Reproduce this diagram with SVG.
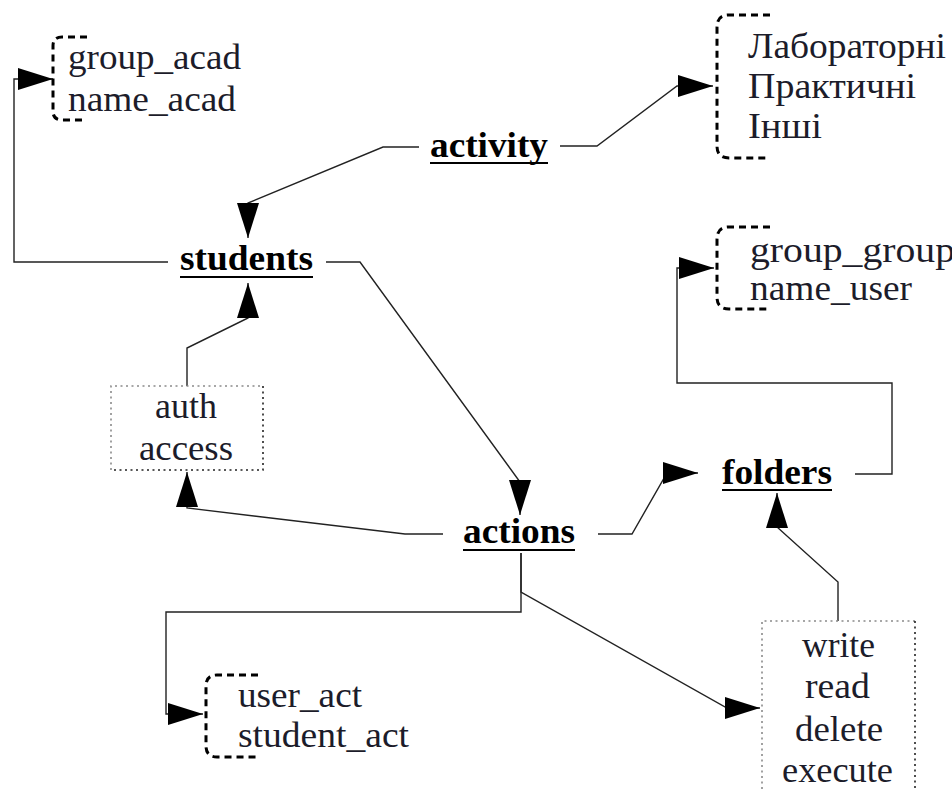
<svg xmlns="http://www.w3.org/2000/svg" width="952" height="791" viewBox="0 0 952 791">
  <defs>
    <marker id="ah" markerUnits="userSpaceOnUse" markerWidth="36" markerHeight="22" refX="35" refY="11" orient="auto" viewBox="0 0 36 22">
      <path d="M0,0 L35,11 L0,22 z" fill="#000"/>
    </marker>
    <style>
      .t { font-family: "Liberation Serif", "Times New Roman", serif; font-size: 35px; fill: #1c1c2a; }
      .b { font-family: "Liberation Serif", "Times New Roman", serif; font-size: 36px; font-weight: bold; fill: #000; }
      .ul { stroke: #000; stroke-width: 2; }
      .edge { fill: none; stroke: #222; stroke-width: 1.4; marker-end: url(#ah); }
      .brace { fill: none; stroke: #000; stroke-width: 3; stroke-dasharray: 7 5; }
      .dotA { fill: none; stroke: #8a8a8a; stroke-width: 1.6; stroke-dasharray: 2 3.5; }
      .dotB { fill: none; stroke: #222; stroke-width: 1.6; stroke-dasharray: 2 3.5; }
    </style>
  </defs>
  <rect width="952" height="791" fill="#fff"/>

  <!-- connectors -->
  <g id="connectors">
    <path class="edge" d="M168,262 H14 V79 H53"/>
    <path class="edge" d="M419,147 H383 L248,203 V238"/>
    <path class="edge" d="M560,146 H597 L677,86 H713"/>
    <path class="edge" d="M326,262 H360 L520,482 V515"/>
    <path class="edge" d="M187,386 V348 L248,318 V283"/>
    <path class="edge" d="M443,534 H405 L187,508 V472"/>
    <path class="edge" d="M598,534 H632 L667,473 H698"/>
    <path class="edge" d="M855,474 H892 V383 H677 V268 H714"/>
    <path class="edge" d="M521,553 V612 H166 V714 H203"/>
    <path class="edge" d="M521,553 V592 L727,708 H760"/>
    <path class="edge" d="M838,621 V582 L777,527 V493"/>
  </g>

  <!-- entity: activity -->
  <g id="activity">
    <text class="b" x="430" y="157" textLength="118" lengthAdjust="spacingAndGlyphs">activity</text>
    <line class="ul" x1="430" y1="163" x2="548" y2="163"/>
  </g>

  <!-- entity: students -->
  <g id="students">
    <text class="b" x="180" y="270" textLength="133" lengthAdjust="spacingAndGlyphs">students</text>
    <line class="ul" x1="180" y1="277" x2="313" y2="277"/>
  </g>

  <!-- entity: actions -->
  <g id="actions">
    <text class="b" x="463" y="543" textLength="112" lengthAdjust="spacingAndGlyphs">actions</text>
    <line class="ul" x1="463" y1="550" x2="575" y2="550"/>
  </g>

  <!-- entity: folders -->
  <g id="folders">
    <text class="b" x="722" y="484" textLength="110" lengthAdjust="spacingAndGlyphs">folders</text>
    <line class="ul" x1="722" y1="490" x2="832" y2="490"/>
  </g>

  <!-- attribute list: academic group -->
  <g id="acad">
    <path class="brace" d="M87,37 H62 Q53,37 53,46 V111 Q53,120 62,120 H86"/>
    <text class="t" x="68" y="69" textLength="173" lengthAdjust="spacingAndGlyphs">group_acad</text>
    <text class="t" x="68" y="111" textLength="168" lengthAdjust="spacingAndGlyphs">name_acad</text>
  </g>

  <!-- attribute list: activity kinds -->
  <g id="kinds">
    <path class="brace" d="M770,15 H729 Q717,15 717,27 V146 Q717,158 729,158 H767"/>
    <text class="t" x="748" y="58" textLength="198" lengthAdjust="spacingAndGlyphs">Лабораторні</text>
    <text class="t" x="748" y="98" textLength="168" lengthAdjust="spacingAndGlyphs">Практичні</text>
    <text class="t" x="748" y="138" textLength="74" lengthAdjust="spacingAndGlyphs">Інші</text>
  </g>

  <!-- attribute list: folder owner -->
  <g id="owner">
    <path class="brace" d="M770,227 H729 Q717,227 717,239 V297 Q717,309 729,309 H768"/>
    <text class="t" x="750" y="262" textLength="205" lengthAdjust="spacingAndGlyphs">group_group</text>
    <text class="t" x="750" y="300" textLength="162" lengthAdjust="spacingAndGlyphs">name_user</text>
  </g>

  <!-- attribute list: action actors -->
  <g id="actors">
    <path class="brace" d="M258,675 H217 Q206,675 206,686 V746 Q206,757 217,757 H257"/>
    <text class="t" x="238" y="707" textLength="124" lengthAdjust="spacingAndGlyphs">user_act</text>
    <text class="t" x="238" y="747" textLength="171" lengthAdjust="spacingAndGlyphs">student_act</text>
  </g>

  <!-- auth box -->
  <g id="auth">
    <path class="dotA" d="M111,470 V386 H263"/>
    <path class="dotB" d="M263,386 V470 H111"/>
    <text class="t" x="155" y="418" textLength="62" lengthAdjust="spacingAndGlyphs">auth</text>
    <text class="t" x="139" y="460" textLength="94" lengthAdjust="spacingAndGlyphs">access</text>
  </g>

  <!-- permissions box -->
  <g id="permissions">
    <path class="dotA" d="M762,800 V621 H915"/>
    <path class="dotB" d="M915,621 V800"/>
    <text class="t" x="802" y="657" textLength="73" lengthAdjust="spacingAndGlyphs">write</text>
    <text class="t" x="805" y="698" textLength="65" lengthAdjust="spacingAndGlyphs">read</text>
    <text class="t" x="795" y="741" textLength="88" lengthAdjust="spacingAndGlyphs">delete</text>
    <text class="t" x="782" y="782" textLength="111" lengthAdjust="spacingAndGlyphs">execute</text>
  </g>
</svg>
